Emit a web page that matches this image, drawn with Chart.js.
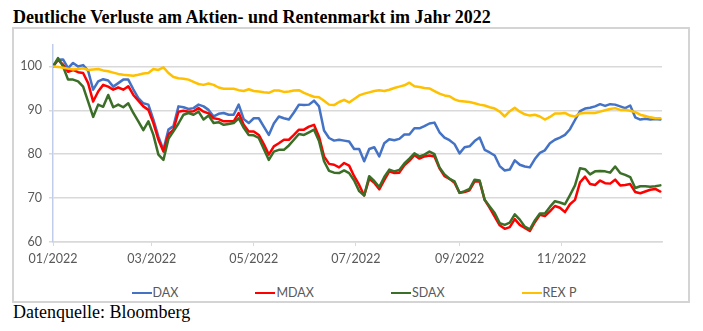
<!DOCTYPE html>
<html lang="de">
<head>
<meta charset="utf-8">
<title>Deutliche Verluste am Aktien- und Rentenmarkt im Jahr 2022</title>
<script src="https://cdn.jsdelivr.net/npm/chart.js@4.4.1/dist/chart.umd.min.js"></script>
<style>
    html, body { margin: 0; padding: 0; background: #fff; }
    body { position: relative; width: 703px; height: 331px; overflow: hidden; }
    .headline {
        position: absolute; left: 13px; top: 8px;
        font: bold 18px/18px "Liberation Serif", "Times New Roman", serif;
        color: #000; white-space: nowrap;
    }
    .frame {
        position: absolute; left: 12px; top: 27px;
        width: 674px; height: 272px;
        border: 2px solid #d4d4d4;
    }
    .plot { position: absolute; left: 15px; top: 30px; width: 672px; height: 242px; }
    .legend {
        position: absolute; left: 16px; top: 286px; width: 676px; height: 14px;
        display: flex; justify-content: center; gap: 77px;
        font: 12.5px/14px Lato, sans-serif; color: #595959;
    }
    .legend .item { display: flex; align-items: center; white-space: nowrap; }
    .legend .item i { display: block; width: 20px; height: 2.5px; margin-right: 1px; }
    .source {
        position: absolute; left: 13px; top: 302.5px;
        font: 18px/18px "Liberation Serif", "Times New Roman", serif;
        color: #000; white-space: nowrap;
    }
</style>
</head>
<body>
<div class="headline">Deutliche Verluste am Aktien- und Rentenmarkt im Jahr 2022</div>
<div class="frame"></div>
<div class="plot"><canvas id="indexChart"></canvas></div>
<div class="legend" id="legend"></div>
<div class="source">Datenquelle: Bloomberg</div>

<script>
// Tage seit 01.01.2022
const days = [0, 3, 6, 9, 12, 15, 18, 21, 24, 27, 30, 33, 36, 39, 42, 45, 48, 51, 54, 57,
    60, 63, 66, 69, 72, 75, 78, 81, 84, 87, 90, 93, 96, 99, 102, 105, 108, 111, 114, 117,
    120, 123, 126, 129, 132, 135, 138, 141, 144, 147, 150, 153, 156, 159, 162, 165, 168, 171, 174, 177,
    180, 183, 186, 189, 192, 195, 198, 201, 204, 207, 210, 213, 216, 219, 222, 225, 228, 231, 234, 237,
    240, 243, 246, 249, 252, 255, 258, 261, 264, 267, 270, 273, 276, 279, 282, 285, 288, 291, 294, 297,
    300, 303, 306, 309, 312, 315, 318, 321, 324, 327, 330, 333, 336, 339, 342, 345, 348, 351, 354, 357,
    360, 363];

// Indexiert, 01/2022 = 100
const dax = [100, 101.5, 101.6, 99.6, 100.8, 100, 100.3, 99, 94.7, 96.6, 97.1, 96.8, 95.4, 96.2, 97,
    97, 94.8, 92.8, 91.6, 91.3, 87.9, 84, 81, 85.6, 86.4, 90.9, 90.7, 90.3, 90.5, 91.3,
    90.9, 90.1, 88.6, 89.2, 89.4, 89, 89, 91.3, 88, 87.1, 88.2, 88.2, 86.3, 84.4, 87,
    88.6, 88.2, 87.9, 89.5, 91.3, 91.2, 91.3, 92.2, 90.9, 85.4, 83.7, 83.1, 83.3, 83.1, 82.9,
    81.2, 81.2, 78.4, 81.2, 81.6, 79.5, 82.5, 83.4, 83.2, 83.5, 84.5, 84.5, 85.9, 85.9, 86.4,
    87, 87.2, 85, 83.8, 83.2, 82.3, 80.2, 81.6, 81.8, 83, 83.8, 81, 80.4, 79.7, 77.3, 76.3,
    76.5, 78.6, 77.6, 77.2, 77, 78.9, 80.3, 80.9, 82.5, 83.3, 83.8, 84.4, 85.7, 87.8, 89.8,
    90.4, 90.6, 90.9, 91.4, 91, 91.4, 91.3, 90.9, 90.5, 91.1, 88.4, 87.9, 88.1, 87.9, 88, 87.9];

const mdax = [100, 101.5, 100.4, 98.8, 99.2, 98.7, 98.5, 96.2, 92, 94.3, 95.8, 95.4, 94.7, 95.2, 94.7,
    95.5, 93.5, 92.2, 90.9, 90.1, 87.1, 83.3, 80.6, 84.5, 85.6, 89.7, 89.9, 89.7, 89.8, 90.5,
    89.7, 89.3, 88.2, 88, 87.5, 87.5, 87.5, 89.4, 86.7, 85.2, 85.2, 84.4, 82.3, 79.9, 81.8,
    82.5, 83.3, 83.3, 84.4, 85.6, 85.6, 86.3, 86.7, 84, 79.5, 77.8, 77.6, 77, 78, 77.4,
    75, 73, 70.6, 74.4, 73.5, 72, 74.1, 76.1, 75.7, 75.8, 77.5, 78.5, 79.8, 79, 79.5,
    79.7, 79.5, 76.8, 75, 74.4, 73.5, 71.2, 71.4, 71.8, 73.8, 73.8, 69.6, 67.8, 65.8, 63.8, 63,
    63.4, 65.2, 63.9, 63.2, 62.5, 64.5, 66.2, 65.9, 67, 68.2, 67.8, 66.8, 68.6, 69.6, 73.6,
    74.9, 73.2, 73, 74, 73.4, 73.3, 74.2, 72.9, 73, 73.2, 71.4, 71.1, 71.5, 71.9, 72.1, 71.5];

const sdax = [100, 101.9, 100, 97, 97, 96.6, 95.4, 92, 88.5, 91.3, 90.8, 93.5, 90.7, 91.3, 90.7,
    91.6, 89.4, 87.5, 85.5, 87.5, 84.4, 79.9, 78.7, 83.5, 85.2, 87, 89, 89.4, 89, 89.7,
    87.9, 88.8, 87.1, 87.3, 86.7, 86.9, 87.1, 88.2, 86, 84.4, 84.3, 83.7, 81.2, 78.7, 80.6,
    81, 81, 82, 83.3, 84.6, 84.4, 85, 85.6, 83, 78.4, 76.2, 75.8, 75.7, 76.3, 75.7,
    74, 71.6, 70.6, 75, 73.9, 72.5, 74.8, 76.5, 76.1, 76.4, 77.9, 79, 80.2, 79.5, 79.9,
    80.6, 80, 77, 75.4, 74.4, 73.8, 71.2, 71.6, 72.1, 74.2, 74, 69.6, 68.1, 66.6, 64.3, 63.9,
    64.4, 66.3, 65.1, 63.5, 62.9, 64.9, 66.5, 66.5, 68, 69.3, 69, 68.6, 70.7, 72.9, 76.8,
    76.6, 75.4, 76.1, 76.2, 76.1, 75.8, 77.2, 75.7, 75.3, 74.8, 72.3, 72.7, 72.7, 72.6, 72.7, 72.9];

const rexp = [100, 99.9, 99.7, 99.5, 99.3, 99.4, 99.6, 99.2, 99.3, 99.4, 99.1, 98.9, 98.6, 98.3, 98.1,
    98, 97.9, 98.1, 98.4, 98.5, 99.4, 99.2, 99.8, 98.5, 97.6, 97.3, 97.2, 97, 96.5, 96,
    95.8, 96.1, 95.8, 95.2, 94.9, 94.9, 94.9, 94.6, 94.4, 94.8, 94.4, 94.3, 94.1, 94, 94.5,
    94.5, 94.2, 94.3, 94.5, 94.6, 94, 93.5, 93.1, 93, 92.2, 91.3, 91.2, 91.9, 92.4, 91.8,
    92.6, 93.4, 93.8, 94.1, 94.4, 94.6, 94.4, 94.7, 95.1, 95.4, 95.7, 96.3, 95.5, 95.3, 95.1,
    95, 94.4, 93.8, 93.4, 93.2, 92.5, 92.1, 92, 91.9, 91.6, 91.3, 91.1, 90.7, 90.4, 89.7, 88.6,
    89.8, 90.6, 89.7, 89.1, 88.8, 89, 88.6, 87.9, 88.5, 89.3, 89.3, 89.4, 88.8, 88.6, 89.3,
    89.4, 89.4, 89.4, 89.7, 90, 90.3, 90.5, 90.1, 90.1, 89.9, 89.6, 89, 88.7, 88.4, 88.2, 88.2];

// Achsenbeschriftung
const monthDays = [0, 59, 120, 181, 243, 304];
const monthLabels = ['01/2022', '03/2022', '05/2022', '07/2022', '09/2022', '11/2022'];
const yTicks = [60, 70, 80, 90, 100];

const tickFont = { family: 'Lato, sans-serif', size: 12.5 };
const labelColor = '#595959';
const gridColor = '#d9d9d9';

function toPoints(values) {
    return days.map((d, i) => ({ x: d, y: values[i] }));
}

function makeLine(label, values, color, order) {
    return {
        label: label,
        data: toPoints(values),
        borderColor: color,
        backgroundColor: color,
        borderWidth: 2.5,
        pointRadius: 0,
        tension: 0,
        borderJoinStyle: 'round',
        borderCapStyle: 'round',
        order: order
    };
}

const chart = new Chart(document.getElementById('indexChart'), {
    type: 'line',
    data: {
        datasets: [
            makeLine('DAX', dax, '#4472c4', 4),
            makeLine('MDAX', mdax, '#ff0000', 3),
            makeLine('SDAX', sdax, '#3b6e26', 2),
            makeLine('REX P', rexp, '#ffc000', 1)
        ]
    },
    options: {
        responsive: true,
        maintainAspectRatio: false,
        animation: false,
        layout: { padding: { top: 13, right: 25, bottom: 0, left: 0 } },
        plugins: {
            legend: { display: false },
            tooltip: { enabled: false }
        },
        scales: {
            x: {
                type: 'linear',
                min: 0,
                max: 364,
                afterBuildTicks: (scale) => {
                    scale.ticks = monthDays.map(v => ({ value: v }));
                },
                afterFit: (scale) => { scale.height = 30; },
                ticks: {
                    autoSkip: false,
                    maxRotation: 0,
                    padding: 5,
                    color: labelColor,
                    font: tickFont,
                    callback: (value) => monthLabels[monthDays.indexOf(value)]
                },
                grid: {
                    drawOnChartArea: false,
                    drawTicks: true,
                    tickLength: 4,
                    color: gridColor
                },
                border: { color: gridColor, width: 1.5 }
            },
            y: {
                min: 60,
                max: 105,
                afterBuildTicks: (scale) => {
                    scale.ticks = yTicks.map(v => ({ value: v }));
                },
                afterFit: (scale) => { scale.width = 38; },
                ticks: {
                    padding: 7,
                    color: labelColor,
                    font: tickFont
                },
                grid: {
                    color: gridColor,
                    lineWidth: 1.5,
                    tickLength: 4
                },
                border: { color: '#bfcde9', width: 1.5 }
            }
        }
    }
});

// Legende unter dem Diagramm, in Reihenfolge der Datenreihen
const legend = document.getElementById('legend');
chart.data.datasets.forEach(ds => {
    const item = document.createElement('span');
    item.className = 'item';
    const swatch = document.createElement('i');
    swatch.style.background = ds.borderColor;
    item.appendChild(swatch);
    item.appendChild(document.createTextNode(ds.label));
    legend.appendChild(item);
});
</script>
</body>
</html>
